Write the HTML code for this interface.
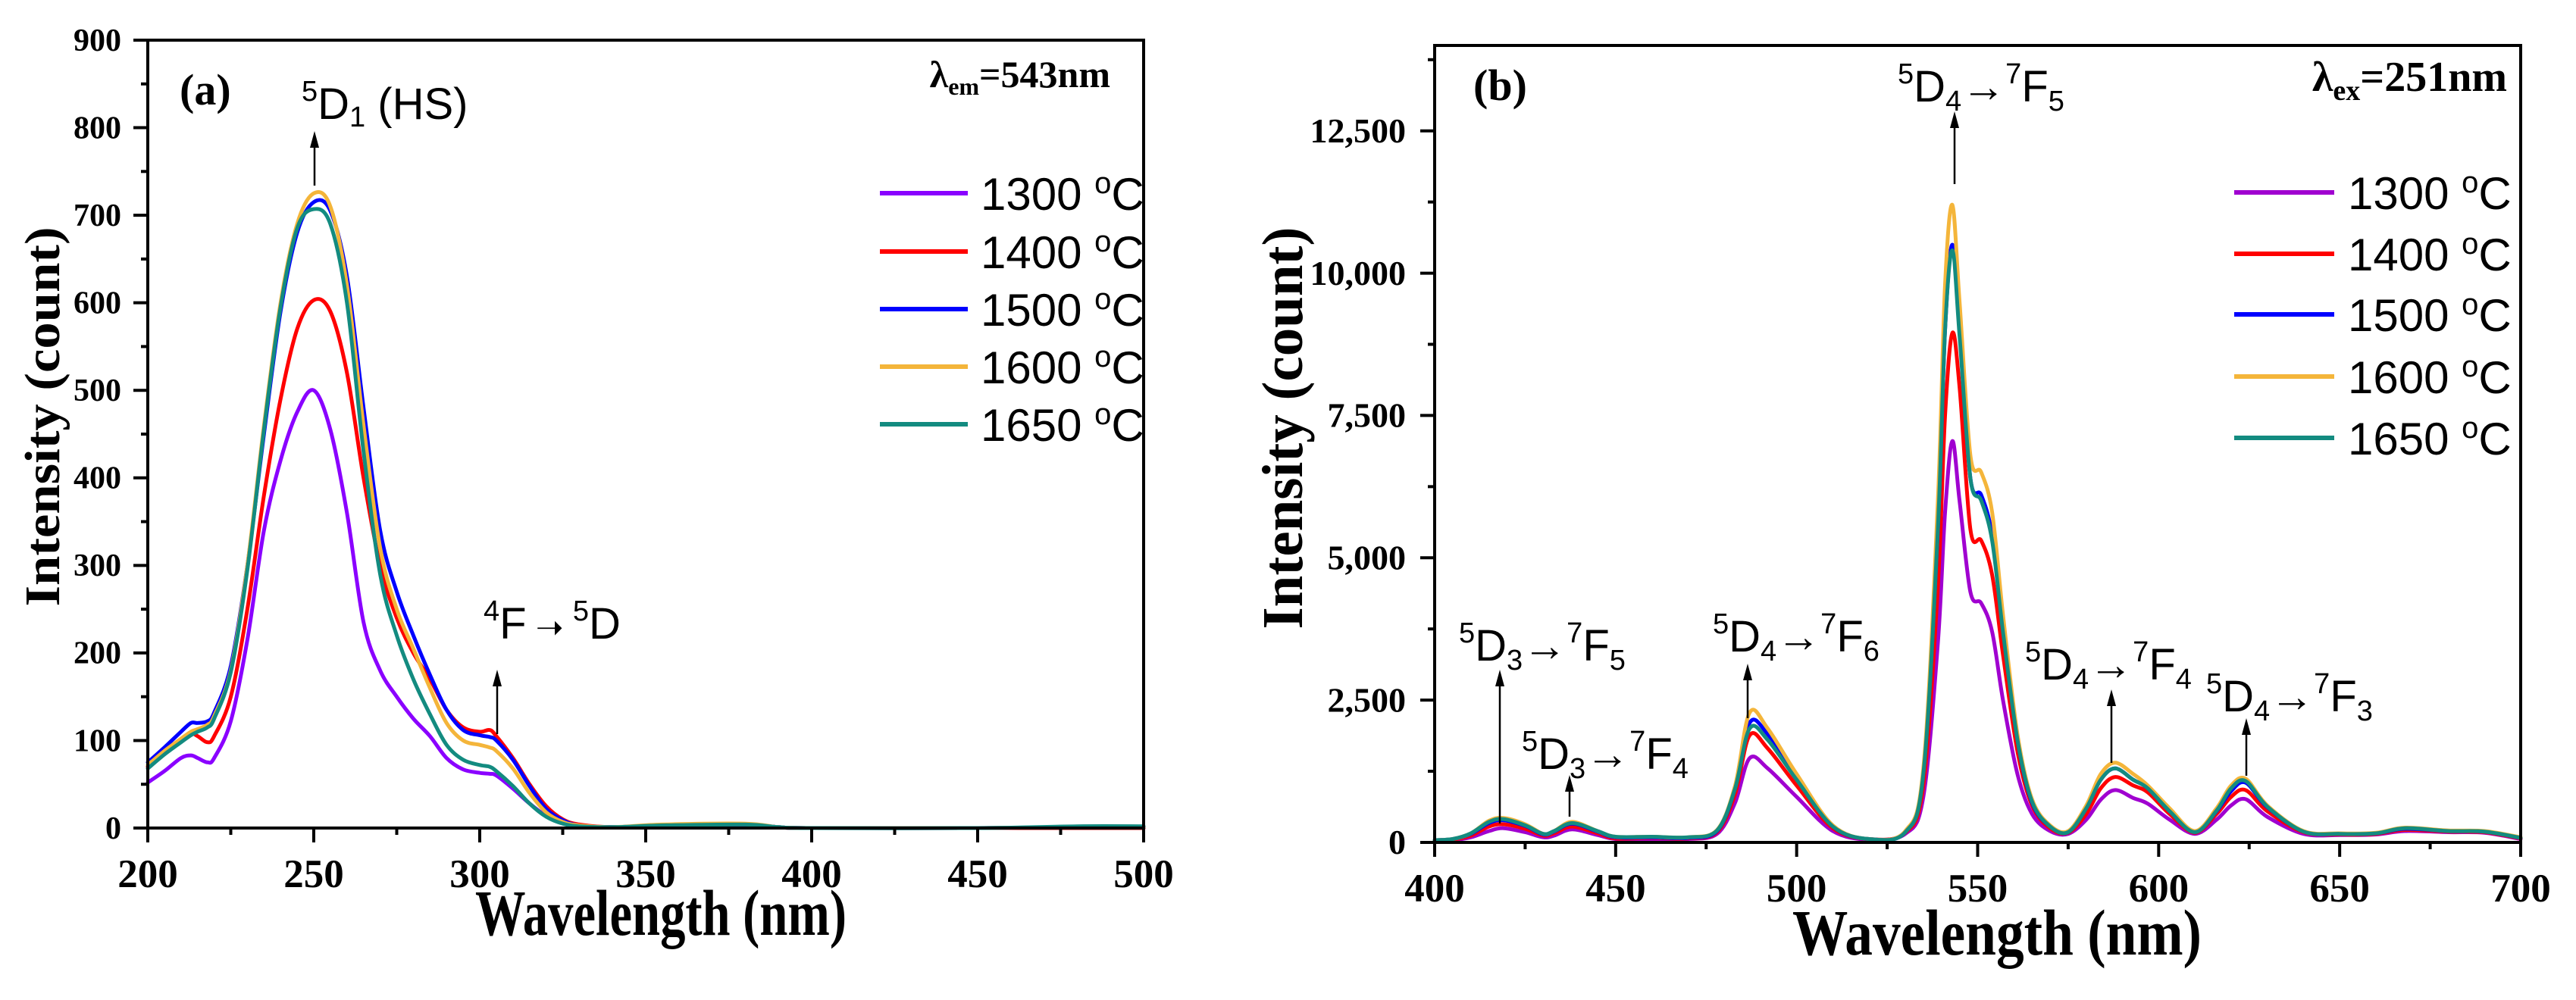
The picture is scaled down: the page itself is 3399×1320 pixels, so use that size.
<!DOCTYPE html>
<html><head><meta charset="utf-8">
<style>
html,body{margin:0;padding:0;background:#fff;}
svg{display:block;}
.tick{font-family:"Liberation Serif",serif;font-weight:bold;font-size:53px;fill:#000;}
.title{font-family:"Liberation Serif",serif;font-weight:bold;font-size:86px;fill:#000;}
.leg{font-family:"Liberation Sans",sans-serif;font-size:60px;fill:#000;}
.ann{font-family:"Liberation Sans",sans-serif;font-size:58px;fill:#000;}
.lab{font-family:"Liberation Serif",serif;font-weight:bold;fill:#000;}
</style></head>
<body>
<svg id="chart" width="3399" height="1320" viewBox="0 0 3399 1320" xmlns="http://www.w3.org/2000/svg">
<g id="panelA"></g>
<g id="panelB"></g>

<!-- Panel A labels -->
<text class="lab" x="237" y="138" font-size="58">(a)</text>
<text class="lab" x="1465" y="115" font-size="50" text-anchor="end">λ<tspan font-size="32" dy="10">em</tspan><tspan dy="-10">=543nm</tspan></text>
<text class="ann" x="398" y="157"><tspan font-size="38" dy="-24">5</tspan><tspan dy="24">D</tspan><tspan font-size="38" dy="10">1</tspan><tspan dy="-10"> (HS)</tspan></text>
<text class="ann" x="638" y="843"><tspan font-size="38" dy="-24">4</tspan><tspan dy="24">F</tspan><tspan font-size="44"> ➝ </tspan><tspan font-size="38" dy="-24">5</tspan><tspan dy="24">D</tspan></text>

<!-- Panel B labels -->
<text class="lab" x="1944" y="132" font-size="58">(b)</text>
<text class="lab" x="3308" y="120" font-size="56" text-anchor="end">λ<tspan font-size="38" dy="12">ex</tspan><tspan dy="-12">=251nm</tspan></text>
<text class="ann" x="2504" y="134"><tspan font-size="38" dy="-24">5</tspan><tspan dy="24">D</tspan><tspan font-size="38" dy="12">4</tspan><tspan dy="-12">→</tspan><tspan font-size="38" dy="-24">7</tspan><tspan dy="24">F</tspan><tspan font-size="38" dy="12">5</tspan></text>
<text class="ann" x="1925" y="872"><tspan font-size="38" dy="-24">5</tspan><tspan dy="24">D</tspan><tspan font-size="38" dy="12">3</tspan><tspan dy="-12">→</tspan><tspan font-size="38" dy="-24">7</tspan><tspan dy="24">F</tspan><tspan font-size="38" dy="12">5</tspan></text>
<text class="ann" x="2008" y="1015"><tspan font-size="38" dy="-24">5</tspan><tspan dy="24">D</tspan><tspan font-size="38" dy="12">3</tspan><tspan dy="-12">→</tspan><tspan font-size="38" dy="-24">7</tspan><tspan dy="24">F</tspan><tspan font-size="38" dy="12">4</tspan></text>
<text class="ann" x="2260" y="860"><tspan font-size="38" dy="-24">5</tspan><tspan dy="24">D</tspan><tspan font-size="38" dy="12">4</tspan><tspan dy="-12">→</tspan><tspan font-size="38" dy="-24">7</tspan><tspan dy="24">F</tspan><tspan font-size="38" dy="12">6</tspan></text>
<text class="ann" x="2672" y="897"><tspan font-size="38" dy="-24">5</tspan><tspan dy="24">D</tspan><tspan font-size="38" dy="12">4</tspan><tspan dy="-12">→</tspan><tspan font-size="38" dy="-24">7</tspan><tspan dy="24">F</tspan><tspan font-size="38" dy="12">4</tspan></text>
<text class="ann" x="2911" y="939"><tspan font-size="38" dy="-24">5</tspan><tspan dy="24">D</tspan><tspan font-size="38" dy="12">4</tspan><tspan dy="-12">→</tspan><tspan font-size="38" dy="-24">7</tspan><tspan dy="24">F</tspan><tspan font-size="38" dy="12">3</tspan></text>
<g id="arrows"></g>
</svg>
<script>
const NS = "http://www.w3.org/2000/svg";
const seriesNames = ["1300 °C","1400 °C","1500 °C","1600 °C","1650 °C"];
const colorsA = ["#8a00ff","#ff0000","#0000ff","#f4b53a","#138b80"];
const colorsB = ["#a000d0","#ff0000","#0000ff","#f4b53a","#138b80"];

// Panel A data (excitation spectra)
const wlA = [200,205,210,213,215,218,220,225,230,235,240,245,250,255,260,265,270,275,280,285,290,295,300,303,305,310,315,320,325,330,340,355,380,390,400,450,480,500];
const a1300 = [52,65,80,83,80,75,80,122,215,340,420,475,500,455,360,235,180,150,125,105,80,67,63,62,60,45,28,14,6,2,1,3,4,1,0,0,0,0];
const a1400 = [70,85,100,108,105,98,105,150,250,380,490,570,603,590,520,400,300,240,200,170,135,115,110,112,105,80,50,25,10,4,1,3,4,1,0,0,0,0];
const a1500 = [75,92,110,120,120,122,132,185,300,450,590,680,715,705,630,480,340,270,220,175,135,112,106,104,100,78,48,22,9,3,1,3,4,1,0,0,1,1];
const a1600 = [72,88,102,110,113,118,128,180,300,460,600,690,725,710,620,460,320,250,205,160,120,100,95,92,88,68,40,18,7,3,1,4,5,1,0,0,1,1];
const a1650 = [68,84,98,106,110,115,125,178,295,455,595,685,707,690,600,430,290,220,170,130,95,78,72,70,65,48,28,13,5,2,1,3,4,1,0,0,2,2];
const seriesA = [a1300,a1400,a1500,a1600,a1650];
const xTicksA = [200,250,300,350,400,450,500];
const yTicksA = [0,100,200,300,400,500,600,700,800,900];
const yTickLabelsA = ["0","100","200","300","400","500","600","700","800","900"];

// Panel B data (emission spectra)
const wlB = [400,405,410,415,419,425,430,433,438,445,450,460,470,478,483,487,492,500,510,520,530,535,539,541,543,545,548,551,554,557,561,565,570,575,580,584,588,593,597,603,610,616,620,624,630,640,650,660,668,680,690,700];
const b1300 = [30,40,90,200,250,180,90,120,230,130,60,60,60,150,700,1480,1300,800,200,50,150,800,3500,5800,7050,6000,4400,4200,3700,2500,1200,500,200,150,400,750,920,780,680,400,150,400,650,760,450,150,130,140,200,180,170,60];
const b1400 = [30,50,120,280,320,240,120,160,280,160,70,80,70,180,850,1880,1650,1000,250,60,170,1000,4500,7500,8950,8000,5500,5300,4700,3300,1600,650,250,170,500,950,1150,1000,880,500,170,500,800,920,550,180,140,150,220,190,180,70];
const b1500 = [40,60,150,340,390,290,140,190,330,190,90,90,80,200,950,2100,1900,1150,280,60,180,1200,5500,9000,10500,9000,6400,6100,5400,3800,1800,700,280,180,600,1100,1300,1100,950,550,180,550,900,1050,620,190,150,160,240,200,190,80];
const b1600 = [40,60,160,380,430,320,150,200,360,200,100,100,90,220,1000,2280,2000,1200,300,60,200,1300,6000,9800,11200,9500,6800,6500,5800,4000,1900,760,300,200,650,1200,1400,1200,1000,600,200,600,1000,1120,650,200,160,170,260,210,200,90];
const b1650 = [40,60,160,360,410,300,150,200,340,200,100,100,90,210,950,2000,1800,1100,280,60,180,1200,5500,9000,10400,8900,6400,6000,5300,3700,1800,720,280,180,600,1100,1300,1100,950,550,180,560,950,1080,630,190,150,160,250,200,190,80];
const seriesB = [b1300,b1400,b1500,b1600,b1650];
const xTicksB = [400,450,500,550,600,650,700];
const yTicksB = [0,2500,5000,7500,10000,12500];
const yTickLabelsB = ["0","2,500","5,000","7,500","10,000","12,500"];

function mk(tag, attrs, parent){
  const e = document.createElementNS(NS, tag);
  for (const k in attrs) e.setAttribute(k, attrs[k]);
  parent.appendChild(e);
  return e;
}
function smoothPath(pts){
  let d = "M" + pts[0][0].toFixed(1) + "," + pts[0][1].toFixed(1);
  for (let i=0;i<pts.length-1;i++){
    const p0 = pts[i-1]||pts[i], p1=pts[i], p2=pts[i+1], p3=pts[i+2]||pts[i+1];
    const c1x = p1[0]+(p2[0]-p0[0])/6, c1y = p1[1]+(p2[1]-p0[1])/6;
    const c2x = p2[0]-(p3[0]-p1[0])/6, c2y = p2[1]-(p3[1]-p1[1])/6;
    d += " C"+c1x.toFixed(1)+","+c1y.toFixed(1)+" "+c2x.toFixed(1)+","+c2y.toFixed(1)+" "+p2[0].toFixed(1)+","+p2[1].toFixed(1);
  }
  return d;
}

function drawPanel(cfg){
  const g = document.getElementById(cfg.id);
  const X = v => cfg.L + (v-cfg.xmin)/(cfg.xmax-cfg.xmin)*(cfg.R-cfg.L);
  const Y = v => cfg.B - (v-cfg.ymin)/(cfg.ymax-cfg.ymin)*(cfg.B-cfg.T);
  cfg.series.forEach((s,i)=>{
    const pts = cfg.wl.map((w,j)=>[X(w), Y(s[j])]);
    const p = mk("path",{d:smoothPath(pts),fill:"none",stroke:cfg.colors[i],"stroke-width":5,"stroke-linejoin":"round","stroke-linecap":"round"},g);
    
    
  });
  const fr = mk("rect",{x:cfg.L,y:cfg.T,width:cfg.R-cfg.L,height:cfg.B-cfg.T,fill:"none",stroke:"#000","stroke-width":4},g);
  
  
  const xt = mk("g",{},g);
  
  
  for (let v=cfg.xmin; v<=cfg.xmax; v+=cfg.xminor){
    const major = cfg.xTicks.indexOf(v)>=0;
    mk("line",{x1:X(v),x2:X(v),y1:cfg.B,y2:cfg.B+(major?19:9),stroke:"#000","stroke-width":4},xt);
  }
  cfg.xTicks.forEach(v=>{
    const t = mk("text",{x:X(v),y:cfg.B+78,"text-anchor":"middle",class:"tick"},xt);
    t.textContent = v;
    
    
  });
  const yt = mk("g",{},g);
  
  
  for (let v=cfg.ymin; v<=cfg.ymax+1e-6; v+=cfg.yminor){
    const major = cfg.yTicks.indexOf(v)>=0;
    mk("line",{x1:cfg.L,x2:cfg.L-(major?19:9),y1:Y(v),y2:Y(v),stroke:"#000","stroke-width":4},yt);
  }
  cfg.yTicks.forEach((v,i)=>{
    const t = mk("text",{x:cfg.yLabX,y:Y(v)+cfg.yLabSize*0.33,"text-anchor":"end",class:"tick","font-size":cfg.yLabSize,style:"font-size:"+cfg.yLabSize+"px"},yt);
    t.textContent = cfg.yLabels[i];
    
    
  });
  const xtt = mk("text",{x:cfg.xTitle[0],y:cfg.xTitle[1],"text-anchor":"middle",class:"title",textLength:cfg.xTitle[2],lengthAdjust:"spacingAndGlyphs"},g);
  xtt.textContent = "Wavelength (nm)";
  
  
  const ytt = mk("text",{x:0,y:0,"text-anchor":"middle",class:"title",style:"font-size:"+cfg.yTitle[3]+"px",textLength:cfg.yTitle[2],lengthAdjust:"spacingAndGlyphs",transform:"translate("+cfg.yTitle[0]+","+cfg.yTitle[1]+") rotate(-90)"},g);
  ytt.textContent = "Intensity (count)";
  
  
  const lg = mk("g",{},g);
  
  
  cfg.names.forEach((n,i)=>{
    const y = cfg.legRows[i];
    const e = mk("g",{},lg);
    
    
    mk("line",{x1:cfg.legX[0],x2:cfg.legX[1],y1:y,y2:y,stroke:cfg.colors[i],"stroke-width":6},e);
    const t = mk("text",{x:cfg.legX[2],y:y+22,class:"leg"},e);
    t.innerHTML = n.replace(" °C"," <tspan font-size=\"40\" dy=\"-22\">o</tspan><tspan dy=\"22\">C</tspan>");
  });
}

drawPanel({id:"panelA",L:195,R:1509,T:53,B:1093,xmin:200,xmax:500,ymin:0,ymax:900,xminor:25,yminor:50,
  xTicks:xTicksA,yTicks:yTicksA,yLabels:yTickLabelsA,yLabX:160,yLabSize:42,wl:wlA,series:seriesA,colors:colorsA,names:seriesNames,
  xTitle:[872,1234,490],yTitle:[78,550,501,66],legRows:[255,332,408,484,560],legX:[1161,1277,1294]});
drawPanel({id:"panelB",L:1893,R:3326,T:60,B:1112,xmin:400,xmax:700,ymin:0,ymax:14000,xminor:25,yminor:1250,
  xTicks:xTicksB,yTicks:yTicksB,yLabels:yTickLabelsB,yLabX:1855,yLabSize:46,wl:wlB,series:seriesB,colors:colorsB,names:seriesNames,
  xTitle:[2635,1260,540],yTitle:[1718,565,531,76],legRows:[254,335,415,497,578],legX:[2948,3080,3098]});

const arrows = [[415,245,173],[656,969,884],[2579,243,147],[1979,1087,884],[2071,1078,1023],[2306,948,876],[2786,1007,910],[2964,1024,948]];
const ag = document.getElementById("arrows");
arrows.forEach(a=>{
  const g = mk("g",{},ag);
  
  
  mk("line",{x1:a[0],x2:a[0],y1:a[1],y2:a[2]+18,stroke:"#000","stroke-width":2.5},g);
  mk("polygon",{points:(a[0]-6)+","+(a[2]+22)+" "+(a[0]+6)+","+(a[2]+22)+" "+a[0]+","+a[2],fill:"#000"},g);
});
</script>
</body></html>
